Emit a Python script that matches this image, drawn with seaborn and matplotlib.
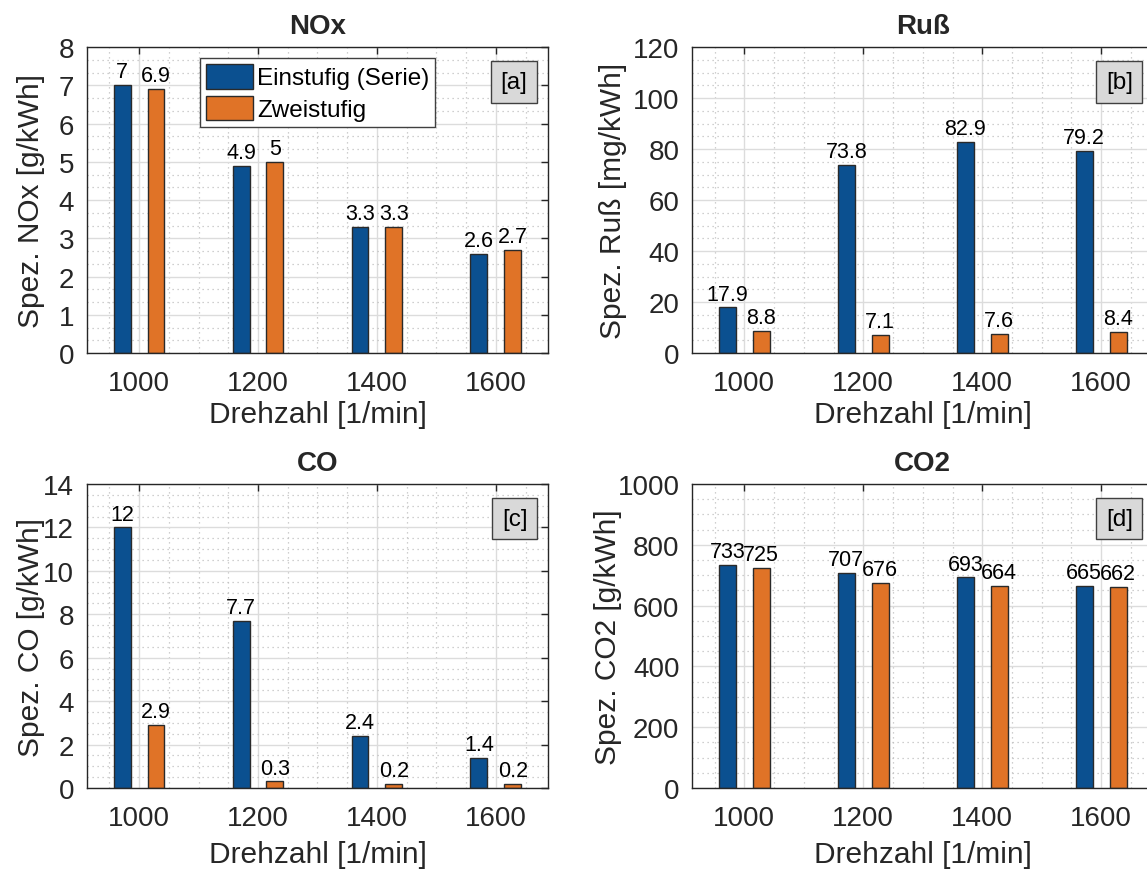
import numpy as np
import pandas as pd
import matplotlib
matplotlib.use("Agg")
import matplotlib.pyplot as plt
from matplotlib.ticker import MultipleLocator
import seaborn as sns

# Engine speeds and the two charging variants
drehzahl = ["1000", "1200", "1400", "1600"]
varianten = ["Einstufig (Serie)", "Zweistufig"]

# Specific emissions per speed
nox_einstufig = [7, 4.9, 3.3, 2.6]
nox_zweistufig = [6.9, 5, 3.3, 2.7]
russ_einstufig = [17.9, 73.8, 82.9, 79.2]
russ_zweistufig = [8.8, 7.1, 7.6, 8.4]
co_einstufig = [12, 7.7, 2.4, 1.4]
co_zweistufig = [2.9, 0.3, 0.2, 0.2]
co2_einstufig = [733, 707, 693, 665]
co2_zweistufig = [725, 676, 664, 662]

titles = ["NOx", "Ruß", "CO", "CO2"]
ylabels = ["Spez. NOx [g/kWh]", "Spez. Ruß [mg/kWh]", "Spez. CO [g/kWh]", "Spez. CO2 [g/kWh]"]
tags = ["[a]", "[b]", "[c]", "[d]"]
ylims = [(0, 8), (0, 120), (0, 14), (0, 1000)]
ysteps = [1, 20, 2, 200]
yminor = [1 / 3, 5, 0.5, 50]
ylabel_x = [-0.091, -0.141, -0.091, -0.152]
xlabel_pad = [3, 3, 7, 7]
series = [
    (nox_einstufig, nox_zweistufig),
    (russ_einstufig, russ_zweistufig),
    (co_einstufig, co_zweistufig),
    (co2_einstufig, co2_zweistufig),
]

sns.set_style("white")
plt.rcParams["font.family"] = ["Liberation Sans", "DejaVu Sans"]
plt.rcParams["axes.edgecolor"] = "#262626"
plt.rcParams["axes.linewidth"] = 1.0

colors = {"Einstufig (Serie)": "#0B5090", "Zweistufig": "#E07327"}
textc = "#262626"

fig = plt.figure(figsize=(11.47, 8.70), dpi=100)
positions = [
    [0.0756, 0.5931, 0.4024, 0.3517],
    [0.6033, 0.5931, 0.4024, 0.3517],
    [0.0756, 0.0931, 0.4024, 0.3494],
    [0.6033, 0.0931, 0.4024, 0.3494],
]

for i in range(4):
    ax = fig.add_axes(positions[i])
    ein, zwei = series[i]
    df = pd.DataFrame({
        "Drehzahl": drehzahl * 2,
        "Wert": list(ein) + list(zwei),
        "Variante": [varianten[0]] * 4 + [varianten[1]] * 4,
    })
    sns.barplot(data=df, x="Drehzahl", y="Wert", hue="Variante", order=drehzahl,
                hue_order=varianten, palette=colors, width=0.57, gap=0.5,
                edgecolor="#2a2a2a", linewidth=1.0, saturation=1, errorbar=None,
                legend=False, ax=ax)
    for cont in ax.containers:
        ax.bar_label(cont, fmt="{:g}", padding=2, fontsize=15.5, color="black")

    ax.set_xlim(-0.44, 3.44)
    ax.set_ylim(*ylims[i])
    ax.yaxis.set_major_locator(MultipleLocator(ysteps[i]))
    ax.yaxis.set_minor_locator(MultipleLocator(yminor[i]))
    ax.xaxis.set_minor_locator(MultipleLocator(0.25))
    ax.set_axisbelow(True)
    ax.grid(True, which="major", color="#dcdcdc", linewidth=1.0, linestyle="-")
    ax.grid(True, which="minor", color="#c0c0c0", linewidth=0.9, linestyle=(0, (1, 3)))
    ax.tick_params(which="major", direction="in", length=5, width=1.0, top=True, right=True,
                   labelsize=20, colors=textc, pad=9)
    ax.tick_params(which="minor", length=0)
    ax.tick_params(axis="x", pad=12)
    ax.set_xlabel("Drehzahl [1/min]", fontsize=21.5, color=textc, labelpad=xlabel_pad[i])
    ax.set_ylabel(ylabels[i], fontsize=21.5, color=textc)
    ax.yaxis.set_label_coords(ylabel_x[i], 0.5)
    ax.set_title(titles[i], fontsize=20, fontweight="bold", pad=10)
    for sp in ax.spines.values():
        sp.set_visible(True)
        sp.set_color("#262626")

    ax.text(0.955, 0.922, tags[i], transform=ax.transAxes, ha="right", va="top",
            fontsize=17.5, color="black",
            bbox=dict(boxstyle="square,pad=0.4", fc="#d9d9d9", ec="#404040", lw=1.0))

    if i == 0:
        handles = [c.patches[0] for c in ax.containers]
        leg = ax.legend(handles, varianten, loc="upper left", bbox_to_anchor=(0.245, 0.965),
                        fontsize=17.5, frameon=True, fancybox=False, framealpha=1,
                        edgecolor="#404040", handlelength=1.95, handleheight=1.2,
                        handletextpad=0.15, borderpad=0.25, labelspacing=0.25,
                        borderaxespad=0)
        leg.get_frame().set_linewidth(1.0)
        for t in leg.get_texts():
            t.set_color("black")

fig.savefig("out.png", dpi=100)
